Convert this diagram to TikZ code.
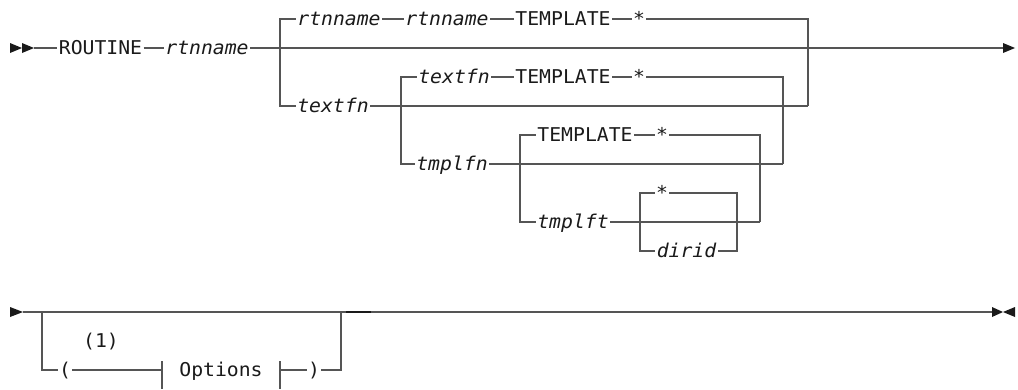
\documentclass[tikz,border=0pt]{standalone}
\usepackage{fontspec}
\setmonofont{DejaVu Sans Mono}[FakeStretch=1.04]
\definecolor{railc}{HTML}{555555}
\definecolor{ink}{HTML}{1A1A1A}
\begin{document}
\begin{tikzpicture}[x=1pt,y=-1pt,
  rail/.style={draw=railc, line width=1.3pt},
  every node/.style={font=\ttfamily\fontsize{19}{21}\selectfont, text=ink,
    inner xsep=1.5pt, inner ysep=0pt, outer sep=0pt,
    text height=13.8pt, text depth=0pt},
  var/.style={font=\ttfamily\itshape\fontsize{19}{21}\selectfont},
  head/.style={fill=ink, draw=none},
  bar/.style={draw=ink, line width=2pt}]
\useasboundingbox (0,0) rectangle (1018,389);

% ---------- main statement line ----------
\coordinate (m0) at (34,48);
\node (routine) at (100.5,48) {ROUTINE};
\node[var] (rtn0) at (207,48) {rtnname};
\coordinate (ja) at (280,48);
\coordinate (m1) at (1003,48);
\fill[head] (10,43) -- (22,48) -- (10,53) -- cycle;
\fill[head] (22,43) -- (34,48) -- (22,53) -- cycle;
\fill[head] (1003,43) -- (1015,48) -- (1003,53) -- cycle;
\draw[rail] (m0) -- (routine);
\draw[rail] (routine) -- (rtn0);
\draw[rail] (rtn0) -- (m1);

% ---------- rtnname rtnname TEMPLATE * / textfn ----------
\node[var] (rtn1) at (339,19) {rtnname};
\node[var] (rtn2) at (447,19) {rtnname};
\node (tpl1) at (563,19) {TEMPLATE};
\node (st1) at (639,19) {*};
\node[var] (tfn1) at (333,106) {textfn};
\coordinate (rb) at (808,106);
\draw[rail] (rtn1.west) -| (ja) |- (tfn1.west);
\draw[rail] (rtn1) -- (rtn2);
\draw[rail] (rtn2) -- (tpl1);
\draw[rail] (tpl1) -- (st1);
\draw[rail] (st1.east) -| (rb);
\draw[rail] (tfn1.east) -- (rb);

% ---------- textfn TEMPLATE * / tmplfn ----------
\node[var] (tfn2) at (454,77) {textfn};
\node (tpl2) at (563,77) {TEMPLATE};
\node (st2) at (639,77) {*};
\coordinate (ka) at (401,106);
\node[var] (tpf) at (452,164) {tmplfn};
\coordinate (kb) at (783,164);
\draw[rail] (tfn2.west) -| (ka) |- (tpf.west);
\draw[rail] (tfn2) -- (tpl2);
\draw[rail] (tpl2) -- (st2);
\draw[rail] (st2.east) -| (kb);
\draw[rail] (tpf.east) -- (kb);

% ---------- TEMPLATE * / tmplft ----------
\node (tpl3) at (585,135) {TEMPLATE};
\node (st3) at (662,135) {*};
\coordinate (la) at (520,164);
\node[var] (tpt) at (573,222) {tmplft};
\coordinate (lb) at (760,222);
\draw[rail] (tpl3.west) -| (la) |- (tpt.west);
\draw[rail] (tpl3) -- (st3);
\draw[rail] (st3.east) -| (lb);
\draw[rail] (tpt.east) -- (lb);

% ---------- * / dirid ----------
\node (st4) at (662,193) {*};
\coordinate (na) at (640,222);
\node[var] (dir) at (686.5,251) {dirid};
\coordinate (nb) at (737,222);
\draw[rail] (st4.west) -| (na) |- (dir.west);
\draw[rail] (st4.east) -| (nb) |- (dir.east);

% ---------- continuation line with options ----------
\coordinate (p0) at (23,312);
\coordinate (pa) at (42,312);
\coordinate (pb) at (341,312);
\coordinate (p1) at (992,312);
\fill[head] (10,307) -- (23,312) -- (10,317) -- cycle;
\draw[rail] (p0) -- (p1);
\draw[bar] (346,312) -- (371,312);
\fill[head] (992,307) -- (1003,312) -- (992,317) -- cycle;
\fill[head] (1015,307) -- (1003,312) -- (1015,317) -- cycle;

\node (lp) at (65,370) {(};
\node (fn) at (101,341) {(1)};
\node (opt) at (221,370) {Options};
\node (rp) at (314,370) {)};
\coordinate (ta) at (162,370);
\coordinate (ta1) at (162,361);
\coordinate (ta2) at (162,389);
\coordinate (tb) at (280,370);
\coordinate (tb1) at (280,361);
\coordinate (tb2) at (280,389);
\draw[rail] (pa) |- (lp.west);
\draw[rail] (lp.east) -- (ta);
\draw[rail] (ta1) -- (ta2);
\draw[rail] (tb1) -- (tb2);
\draw[rail] (tb) -- (rp.west);
\draw[rail] (rp.east) -| (pb);
\end{tikzpicture}
\end{document}
